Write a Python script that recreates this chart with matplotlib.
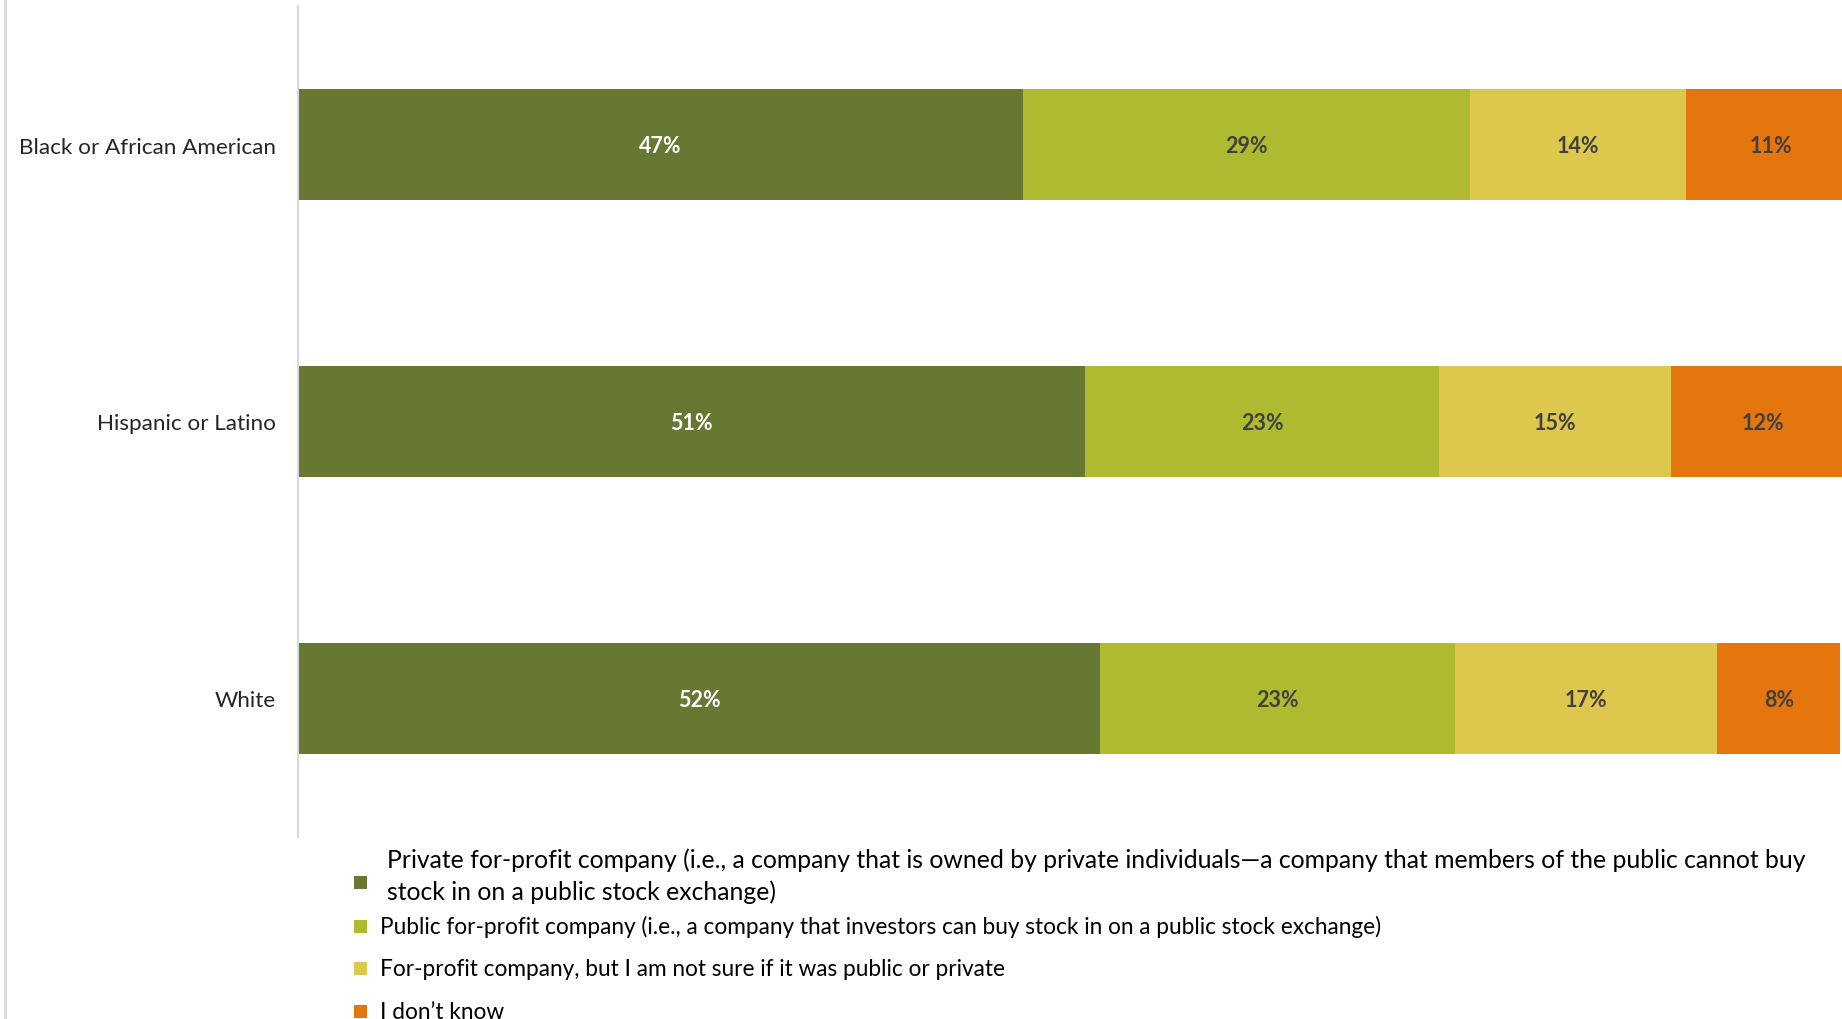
import matplotlib.pyplot as plt
from matplotlib.patches import Rectangle
from matplotlib.lines import Line2D
import numpy as np

plt.rcParams['font.family'] = ['Lato', 'DejaVu Sans']

groups = ['Black or African American', 'Hispanic or Latino', 'White']
private = [47, 51, 52]
public = [29, 23, 23]
not_sure = [14, 15, 17]
dont_know = [11, 12, 8]

series = [private, public, not_sure, dont_know]
names = [
    'Private for-profit company (i.e., a company that is owned by private individuals\u2014a company that members of the public cannot buy\nstock in on a public stock exchange)',
    'Public for-profit company (i.e., a company that investors can buy stock in on a public stock exchange)',
    'For-profit company, but I am not sure if it was public or private',
    'I don\u2019t know',
]
colors = ['#667832', '#afba31', '#ddc74c', '#e5750d']
label_colors = ['white', '#404040', '#404040', '#404040']

W, H = 1842, 1020
fig = plt.figure(figsize=(W / 100, H / 100), dpi=100)
ax = fig.add_axes([298 / W, 182 / H, 1 - 298 / W, 831 / H])

y = np.arange(len(groups))
left = np.zeros(len(groups))
for vals, col, lc in zip(series, colors, label_colors):
    vals = np.array(vals)
    ax.barh(y, vals, left=left, height=0.4, color=col)
    for yi, l, v in zip(y, left, vals):
        ax.text(l + v / 2, yi + 0.005, f'{v}%', ha='center', va='center',
                color=lc, fontsize=15.5, fontweight='bold')
    left += vals

ax.set_xlim(0, 100.1)
ax.set_ylim(2.5, -0.5)
ax.set_yticks(y)
ax.set_yticklabels(groups, fontsize=16.2, color='#262626')
ax.tick_params(axis='y', length=0, pad=16)
ax.set_xticks([])
for s in ['top', 'right', 'bottom']:
    ax.spines[s].set_visible(False)
ax.spines['left'].set_color('#d9d9d9')
ax.spines['left'].set_linewidth(1.5)

# outer chart border on the left
fig.add_artist(Line2D([5 / W, 5 / W], [0, 1], color='#d9d9d9', lw=2))

# legend below the plot, laid out by hand (pixel rows from the top)
key_rows = [883, 927, 969, 1012]
text_rows = [876, 927, 970, 1013]
text_x = [387, 380, 380, 380]
sizes = [17.8, 16.3, 16.3, 16.3]
box = 13
for name, col, ky, ty, tx, fs in zip(names, colors, key_rows, text_rows, text_x, sizes):
    fig.add_artist(Rectangle((354 / W, (H - ky - box / 2) / H), box / W, box / H,
                             facecolor=col, edgecolor='none', transform=fig.transFigure))
    fig.text(tx / W, (H - ty) / H, name, ha='left', va='center', fontsize=fs,
             color='black', linespacing=1.42)

fig.savefig('out.png', dpi=100)
